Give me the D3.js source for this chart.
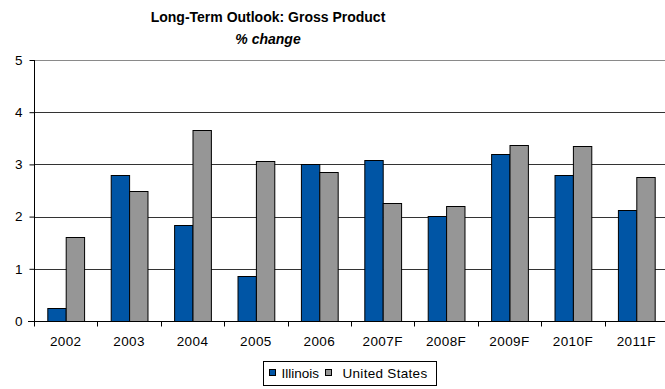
<!DOCTYPE html>
<html>
<head>
<meta charset="utf-8">
<script src="https://cdn.jsdelivr.net/npm/d3@7"></script>
<style>
  html, body { margin: 0; padding: 0; background: #fff; }
  svg { display: block; font-family: "Liberation Sans", Arial, sans-serif; }
</style>
</head>
<body>
<svg id="chart" width="665" height="389"></svg>
<script>
// Gross product growth, % change per year
const years = ["2002", "2003", "2004", "2005", "2006", "2007F", "2008F", "2009F", "2010F", "2011F"];
const illinois = [0.25, 2.8, 1.83, 0.87, 3.0, 3.08, 2.01, 3.2, 2.79, 2.12];
const unitedStates = [1.6, 2.5, 3.65, 3.07, 2.86, 2.27, 2.2, 3.38, 3.35, 2.76];
const seriesNames = ["Illinois", "United States"];
const seriesColors = ["#0055A5", "#969696"];
const yTicks = [0, 1, 2, 3, 4, 5];

const svg = d3.select("#chart");
const plot = { left: 34, right: 668, top: 60, bottom: 321 };

const x = d3.scaleBand().domain(years).range([plot.left, plot.right]).paddingInner(0.42).paddingOuter(0.21);
const step = x.step();
const xs = d3.scaleBand().domain(seriesNames).range([0, x.bandwidth()]);
const y = d3.scaleLinear().domain([0, 5]).range([plot.bottom, plot.top]);

// Horizontal gridlines
svg.append("g").selectAll("line").data(yTicks.filter(t => t > 0)).join("line")
  .attr("x1", plot.left).attr("x2", plot.right)
  .attr("y1", d => Math.round(y(d)) + 0.5).attr("y2", d => Math.round(y(d)) + 0.5)
  .attr("stroke", d => d === 5 ? "#8a8a8a" : "#333")
  .attr("stroke-width", 1);

// Bars
const rows = years.map((yr, i) => ({ yr, vals: [illinois[i], unitedStates[i]] }));
const groups = svg.append("g").selectAll("g").data(rows).join("g")
  .attr("transform", d => `translate(${x(d.yr)},0)`);
groups.selectAll("rect").data(d => d.vals.map((v, k) => ({ v, k }))).join("rect")
  .attr("x", d => xs(seriesNames[d.k]) + 0.5)
  .attr("width", xs.bandwidth())
  .attr("y", d => Math.round(y(d.v)) + 0.5)
  .attr("height", d => Math.round(y(0)) - Math.round(y(d.v)))
  .attr("fill", d => seriesColors[d.k])
  .attr("stroke", "#000")
  .attr("stroke-width", 1);

// Y axis
const yAxis = svg.append("g").attr("transform", `translate(${plot.left + 0.5},0)`)
  .call(d3.axisLeft(y).tickValues(yTicks).tickSize(5).tickPadding(7).tickFormat(d3.format("d")));
yAxis.select(".domain").attr("stroke", "#000").attr("d", `M0,${plot.top}V${plot.bottom + 0.5}`);
yAxis.selectAll(".tick line").attr("stroke", "#000");
yAxis.selectAll(".tick text").attr("font-size", 13.5).attr("fill", "#000")
  .attr("font-family", "Liberation Sans, Arial, sans-serif");

// X axis with ticks between categories
const xAxis = svg.append("g").attr("transform", `translate(0,${Math.round(y(0)) + 0.5})`);
xAxis.append("line").attr("x1", plot.left - 6).attr("x2", plot.right).attr("stroke", "#000");
const boundaries = d3.range(0, years.length + 1).map(i => plot.left + i * step);
xAxis.selectAll("line.tk").data(boundaries).join("line").attr("class", "tk")
  .attr("x1", d => Math.round(d) + 0.5).attr("x2", d => Math.round(d) + 0.5)
  .attr("y1", 0).attr("y2", 5).attr("stroke", "#000");
xAxis.selectAll("text").data(years).join("text")
  .attr("x", d => x(d) + x.bandwidth() / 2)
  .attr("y", 24)
  .attr("text-anchor", "middle")
  .attr("font-size", 13.5)
  .attr("letter-spacing", 0.4)
  .text(d => d);

// Title
svg.append("text").attr("x", 268).attr("y", 22).attr("text-anchor", "middle")
  .attr("font-size", 14).attr("font-weight", "bold").text("Long-Term Outlook: Gross Product");
svg.append("text").attr("x", 268).attr("y", 44).attr("text-anchor", "middle")
  .attr("font-size", 14).attr("font-weight", "bold").attr("font-style", "italic").text("% change");

// Legend
const legend = svg.append("g").attr("transform", "translate(263.5,361.5)");
legend.append("rect").attr("width", 173).attr("height", 24).attr("fill", "#fff").attr("stroke", "#000");
const items = [{ name: seriesNames[0], sx: 6, tx: 18, ls: 0 }, { name: seriesNames[1], sx: 62, tx: 79, ls: 0.3 }];
items.forEach((it, k) => {
  legend.append("rect").attr("x", it.sx).attr("y", 8).attr("width", 6).attr("height", 6)
    .attr("fill", seriesColors[k]).attr("stroke", "#000");
  legend.append("text").attr("x", it.tx).attr("y", 16.5).attr("font-size", 13.5)
    .attr("letter-spacing", it.ls).text(it.name);
});
</script>
</body>
</html>
